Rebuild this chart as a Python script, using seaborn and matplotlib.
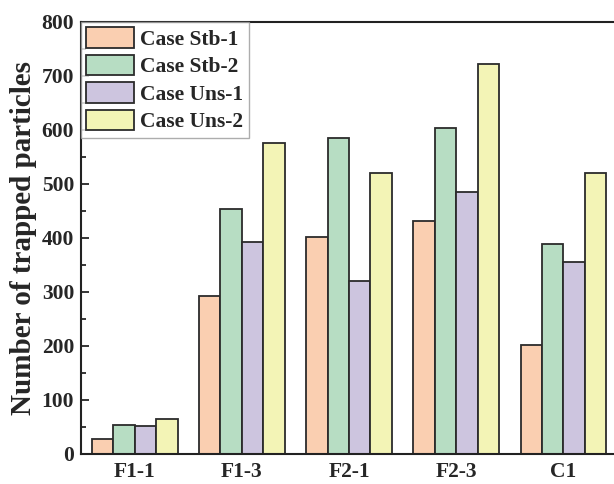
import pandas as pd
import matplotlib
matplotlib.use('Agg')
import matplotlib.pyplot as plt
import seaborn as sns
from matplotlib.patches import Patch
from matplotlib.ticker import MultipleLocator

# values
locations = ['F1-1', 'F1-3', 'F2-1', 'F2-3', 'C1']
cases = ['Case Stb-1', 'Case Stb-2', 'Case Uns-1', 'Case Uns-2']
stb1 = [28, 293, 402, 431, 202]
stb2 = [54, 453, 586, 603, 388]
uns1 = [51, 392, 321, 485, 355]
uns2 = [64, 576, 521, 723, 521]
colors = ['#FACFB1', '#B7DDC3', '#CDC5DF', '#F3F4B6']

rows = []
for case, vals in zip(cases, [stb1, stb2, uns1, uns2]):
    for loc, v in zip(locations, vals):
        rows.append({'Location': loc, 'Case': case, 'Count': v})
df = pd.DataFrame(rows)

sns.set_style('ticks')
plt.rcParams['font.family'] = ['Liberation Serif', 'DejaVu Serif']
plt.rcParams['font.weight'] = 'bold'

fig = plt.figure(figsize=(6.14, 4.84), dpi=100)
ax = fig.add_axes([0.132, 0.062, 0.873, 0.8926])

sns.barplot(data=df, x='Location', y='Count', hue='Case', hue_order=cases,
            palette=colors, width=0.8, edgecolor='#2b2b2b', linewidth=1.3,
            saturation=1, ax=ax, legend=False)

ax.set_xlim(-0.5, 4.5)
ax.set_ylim(0, 800)
ax.yaxis.set_major_locator(MultipleLocator(100))
ax.yaxis.set_minor_locator(MultipleLocator(50))
ax.tick_params(axis='y', which='major', direction='in', length=6, width=1.3,
               labelsize=15.5, pad=5)
ax.tick_params(axis='y', which='minor', direction='in', length=3.5, width=1.3)
ax.tick_params(axis='x', length=0, labelsize=15.5, pad=6)
for lab in ax.get_xticklabels() + ax.get_yticklabels():
    lab.set_fontweight('bold')
for s in ax.spines.values():
    s.set_linewidth(1.5)
    s.set_color('#222222')

ax.set_xlabel('')
ax.set_ylabel('Number of trapped particles', fontsize=21, fontweight='bold',
              labelpad=3)

handles = [Patch(facecolor=c, edgecolor='#2b2b2b', linewidth=1.3) for c in colors]
leg = ax.legend(handles, cases, loc='upper left', borderaxespad=0,
                fancybox=False, frameon=True, handlelength=2.2,
                handleheight=1.1, labelspacing=0.22, handletextpad=0.3,
                borderpad=0.25, prop={'weight': 'bold', 'size': 15.5})
leg.get_frame().set_edgecolor('#999999')
leg.get_frame().set_linewidth(1.0)

fig.savefig('out.png', dpi=100)
